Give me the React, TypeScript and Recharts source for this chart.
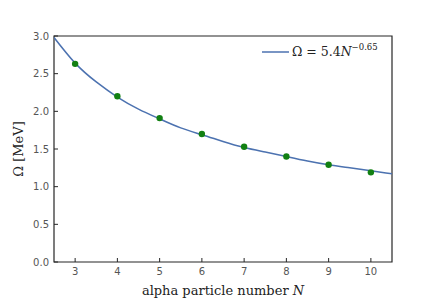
import { ComposedChart, Customized, Line, ReferenceArea, Scatter, XAxis, YAxis } from 'recharts'

// measured points (N, Omega in MeV)
const particleNumbers = [3, 4, 5, 6, 7, 8, 9, 10]
const omegaValues = [2.63, 2.2, 1.91, 1.7, 1.53, 1.4, 1.29, 1.19]

// fitted curve Omega = 5.4 N^-0.65
const fitN = [2.5, 3, 3.5, 4, 4.5, 5, 5.5, 6, 6.5, 7, 7.5, 8, 8.5, 9, 9.5, 10, 10.5]
const fitOmega = [2.98, 2.64, 2.39, 2.19, 2.03, 1.9, 1.78, 1.69, 1.6, 1.52, 1.46, 1.4, 1.34, 1.29, 1.25, 1.21, 1.17]

const xTicks = [3, 4, 5, 6, 7, 8, 9, 10]
const yTicks = [0, 0.5, 1, 1.5, 2, 2.5, 3]

const points = particleNumbers.map((n, i) => ({ n, omega: omegaValues[i] }))
const fit = fitN.map((n, i) => ({ n, omega: fitOmega[i] }))

const tickFont = 'DejaVu Sans, sans-serif'
const labelFont = 'DejaVu Serif, serif'
const frame = '#262626'
const blue = '#4c72b0'

const XTick = (props: any) => {
  const { x, y, payload } = props
  return (
    <g>
      <line x1={x} x2={x} y1={y} y2={y - 4} stroke={frame} strokeWidth={1} />
      <text x={x} y={y + 13} textAnchor="middle" fontSize={10} fontFamily={tickFont} fill="#555">
        {payload.value}
      </text>
    </g>
  )
}

const YTick = (props: any) => {
  const { x, y, payload } = props
  return (
    <g>
      <line x1={x} x2={x + 4} y1={y} y2={y} stroke={frame} strokeWidth={1} />
      <text x={x - 5} y={y + 3.5} textAnchor="end" fontSize={10} fontFamily={tickFont} fill="#555">
        {Number(payload.value).toFixed(1)}
      </text>
    </g>
  )
}

const Dot = (props: any) => <circle cx={props.cx} cy={props.cy} r={3.2} fill="#128012" />

const Labels = () => (
  <g>
    <line x1={262} x2={289} y1={52} y2={52} stroke={blue} strokeWidth={1.5} />
    <text x={292} y={56} fontSize={12.5} fontFamily={labelFont} fill="#222">
      Ω = 5.4<tspan fontStyle="italic">N</tspan>
      <tspan fontSize={8.5} dy={-6}>−0.65</tspan>
    </text>
    <text x={223} y={295} textAnchor="middle" fontSize={13} fontFamily={labelFont} fill="#222">
      alpha particle number <tspan fontStyle="italic">N</tspan>
    </text>
    <text
      x={23}
      y={149}
      textAnchor="middle"
      fontSize={13}
      fontFamily={labelFont}
      fill="#222"
      transform="rotate(-90 23 149)"
    >
      Ω [MeV]
    </text>
  </g>
)

export default function App() {
  return (
    <div style={{ position: 'absolute', left: 0, top: 0, background: '#fff' }}>
      <ComposedChart width={436} height={300} margin={{ top: 36, right: 44, bottom: 0, left: 0 }}>
        <XAxis
          dataKey="n"
          type="number"
          domain={[2.5, 10.5]}
          ticks={xTicks}
          allowDataOverflow
          height={38}
          tickSize={0}
          tickMargin={0}
          tickLine={false}
          axisLine={false}
          tick={<XTick />}
        />
        <YAxis
          type="number"
          domain={[0, 3]}
          ticks={yTicks}
          allowDataOverflow
          width={54}
          tickSize={0}
          tickMargin={0}
          tickLine={false}
          axisLine={false}
          tick={<YTick />}
        />
        <ReferenceArea x1={2.5} x2={10.5} y1={0} y2={3} fill="none" stroke={frame} strokeWidth={1.2} />
        <Line
          data={fit}
          dataKey="omega"
          type="natural"
          stroke={blue}
          strokeWidth={1.5}
          dot={false}
          activeDot={false}
          isAnimationActive={false}
        />
        <Scatter data={points} dataKey="omega" shape={<Dot />} isAnimationActive={false} />
        <Customized component={<Labels />} />
      </ComposedChart>
    </div>
  )
}
